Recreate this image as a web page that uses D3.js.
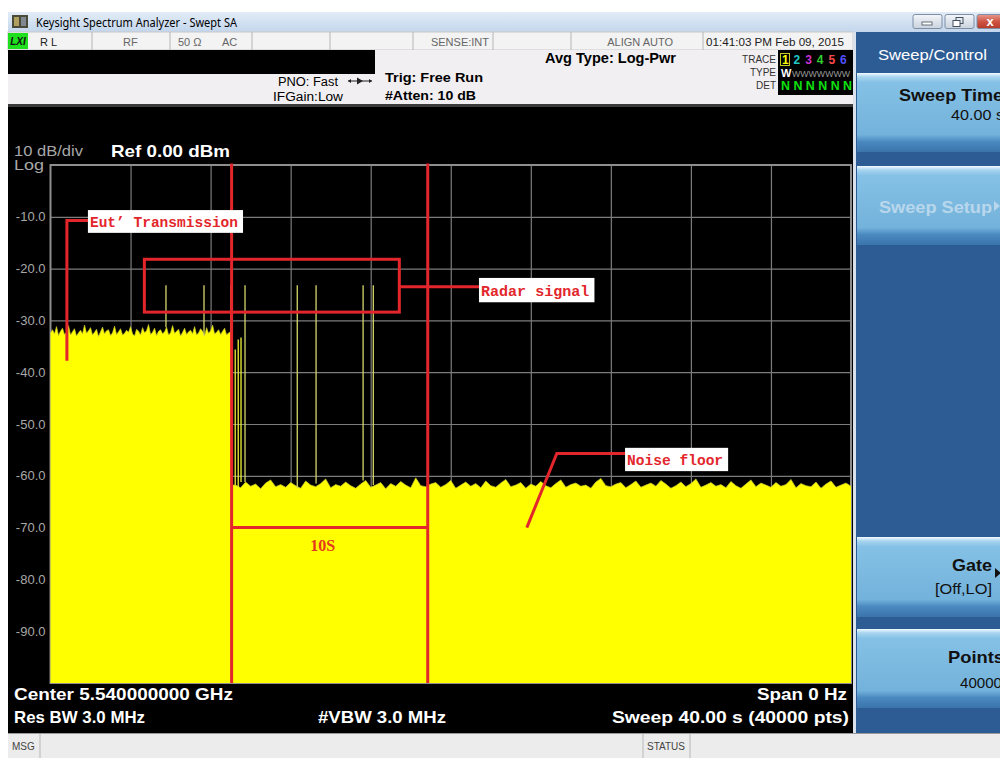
<!DOCTYPE html>
<html>
<head>
<meta charset="utf-8">
<script src="https://cdn.jsdelivr.net/npm/d3@7"></script>
<style>
  html, body { margin: 0; padding: 0; background: #fff; }
  svg { display: block; }
</style>
</head>
<body>
<svg id="screen" width="1000" height="758"></svg>
<script>
// ---- Sweep settings and readings (zero span, 40 s sweep) ----
const sweepSeconds = [0, 40];
const levelRange = [-100, 0];                 // dBm, Ref 0.00 dBm, 10 dB/div
const yTicks = [-10, -20, -30, -40, -50, -60, -70, -80, -90];
const timeGrid = [4, 8, 12, 16, 20, 24, 28, 32, 36];

// EUT transmission envelope, one reading every 0.1 s from 0 s
const eutStep = 0.1;
const eutLevel = [
  -32.4,-31.8,-32.6,-31.2,-32.9,-32.1,-31.5,-32.7,-32.3,-31.0,
  -32.8,-32.2,-31.6,-33.0,-32.4,-31.9,-32.6,-30.9,-32.5,-32.0,
  -31.4,-32.8,-32.3,-31.7,-33.1,-32.2,-31.3,-32.6,-32.0,-31.8,
  -32.9,-32.4,-31.1,-32.7,-32.2,-31.6,-32.8,-32.5,-31.9,-32.3,
  -31.2,-32.6,-33.0,-31.7,-32.1,-32.8,-31.4,-32.4,-32.0,-30.8,
  -32.7,-32.3,-31.5,-32.9,-32.1,-31.8,-32.6,-32.2,-31.3,-32.8,
  -32.4,-31.0,-32.5,-32.1,-31.7,-33.0,-32.3,-31.5,-32.7,-32.2,
  -31.9,-32.6,-31.2,-32.8,-32.4,-31.6,-32.1,-32.9,-31.4,-32.5,
  -32.0,-30.9,-32.6,-32.3,-31.8,-32.7,-32.1,-31.5,-32.8,-32.4,
  -32.2
];
const eutEnd = 9.05;

// Noise floor after the EUT stops, one reading every 0.25 s from 9.25 s
const floorStart = 9.25, floorStep = 0.25;
const floorLevel = [
  -61.8,-62.3,-61.2,-62.0,-61.6,-62.5,-61.4,-60.8,-62.1,-61.7,
  -62.2,-61.3,-61.9,-62.4,-61.0,-61.8,-62.1,-61.5,-60.6,-62.3,
  -61.7,-62.0,-61.2,-61.9,-62.4,-61.6,-60.9,-62.2,-61.8,-61.3,
  -62.5,-61.5,-62.0,-61.1,-61.8,-62.3,-60.4,-61.9,-62.1,-61.6,
  -61.3,-62.2,-61.7,-60.9,-62.4,-61.8,-61.2,-62.0,-61.5,-62.3,
  -61.0,-61.9,-62.2,-61.4,-60.7,-62.1,-61.8,-61.3,-62.4,-61.6,
  -62.0,-61.1,-61.9,-62.3,-61.5,-60.8,-62.2,-61.7,-61.4,-62.0,
  -61.8,-62.4,-61.2,-60.5,-61.9,-62.1,-61.6,-61.3,-62.3,-61.7,
  -61.0,-62.2,-61.8,-61.4,-62.0,-60.9,-61.6,-62.4,-61.9,-61.2,
  -62.1,-61.5,-60.6,-62.2,-61.8,-61.3,-62.0,-61.7,-62.3,-61.1,
  -61.9,-62.4,-61.6,-60.8,-62.1,-61.4,-61.8,-62.2,-61.3,-62.0,
  -61.7,-60.7,-62.3,-61.5,-61.9,-62.1,-61.2,-62.4,-61.6,-61.0,
  -62.2,-61.8,-61.4,-62.0
];

// Radar pulses
const radarTimes = [5.77, 7.67, 9.01, 9.72, 12.33, 13.27, 15.62, 16.13];
const radarPeak  = [-23.2, -23.2, -23.2, -23.2, -23.2, -23.2, -23.2, -23.2];
// EUT tail bursts just after it stops
const tailTimes = [9.23, 9.38, 9.52];
const tailPeak  = [-35.6, -33.7, -33.3];

// Annotation: channel move time markers
const markerTimes = [9.05, 18.85];
const markerLabel = "10S";

// ---- scales ----
const svg = d3.select("#screen");
const plot = { left: 50.5, right: 851, top: 165, bottom: 683 };
const x = d3.scaleLinear().domain(sweepSeconds).range([plot.left, plot.right]);
const y = d3.scaleLinear().domain(levelRange).range([plot.bottom, plot.top]);

const SANS = "'Liberation Sans', Arial, sans-serif";
const UI = "'Noto Sans', 'Open Sans', sans-serif";
const MONO = "'Liberation Mono', 'DejaVu Sans Mono', monospace";
const SERIF = "'Liberation Serif', 'DejaVu Serif', serif";

function text(g, px, py, s, o = {}) {
  const t = g.append("text").attr("x", px).attr("y", py).text(s)
    .attr("font-family", o.family || SANS)
    .attr("font-size", o.size || 12)
    .attr("font-weight", o.weight || "normal")
    .attr("fill", o.fill || "#000")
    .attr("text-anchor", o.anchor || "start");
  if (o.len) t.attr("textLength", o.len).attr("lengthAdjust", "spacingAndGlyphs");
  if (o.style) t.attr("font-style", o.style);
  return t;
}

const defs = svg.append("defs");
function vGrad(id, stops) {
  const g = defs.append("linearGradient").attr("id", id)
    .attr("x1", 0).attr("y1", 0).attr("x2", 0).attr("y2", 1);
  stops.forEach(([o, c]) => g.append("stop").attr("offset", o).attr("stop-color", c));
}
vGrad("titleBar", [[0, "#e2ecf7"], [1, "#c3d6ec"]]);
vGrad("softKey", [[0, "#f2faff"], [0.05, "#a8d5f0"], [0.12, "#85c1e6"], [0.78, "#73b2db"], [0.87, "#4a89c0"], [1, "#3a74ab"]]);
vGrad("winBtn", [[0, "#f4f6f9"], [1, "#c9d2de"]]);
vGrad("winClose", [[0, "#e89a8e"], [0.5, "#cf5544"], [1, "#b63a2a"]]);

// ---- window frame ----
svg.append("rect").attr("width", 1000).attr("height", 758).attr("fill", "#fff");
svg.append("rect").attr("x", 8).attr("y", 12).attr("width", 992).attr("height", 20).attr("fill", "url(#titleBar)");
const icon = svg.append("g");
icon.append("rect").attr("x", 12).attr("y", 15).attr("width", 16).attr("height", 13).attr("fill", "#4a4a38");
icon.append("rect").attr("x", 14).attr("y", 17).attr("width", 5).attr("height", 9).attr("fill", "#b0a060");
icon.append("rect").attr("x", 21).attr("y", 17).attr("width", 5).attr("height", 9).attr("fill", "#7f8890");
text(svg, 36, 27, "Keysight Spectrum Analyzer - Swept SA", { family: UI, size: 12, len: 201 });

[[913, "winBtn"], [945, "winBtn"], [977, "winClose"]].forEach(([bx, f]) => {
  svg.append("rect").attr("x", bx).attr("y", 14.5).attr("width", bx === 977 ? 26 : 29).attr("height", 14)
    .attr("rx", 2).attr("fill", `url(#${f})`).attr("stroke", "#7d8ea6");
});
svg.append("rect").attr("x", 922).attr("y", 22).attr("width", 10).attr("height", 3).attr("fill", "#fff").attr("stroke", "#44505e").attr("stroke-width", 0.8);
svg.append("rect").attr("x", 956).attr("y", 17.5).attr("width", 7).attr("height", 6).attr("fill", "none").attr("stroke", "#44505e");
svg.append("rect").attr("x", 953).attr("y", 20.5).attr("width", 7).attr("height", 6).attr("fill", "#fff").attr("stroke", "#44505e");
text(svg, 990, 26, "x", { family: SANS, size: 13, weight: "bold", fill: "#fff", anchor: "middle" });

// ---- status row ----
svg.append("rect").attr("x", 8).attr("y", 32).attr("width", 845).attr("height", 18).attr("fill", "#f3f3f3")
  .attr("stroke", "#c8c8c8");
svg.append("rect").attr("x", 8).attr("y", 33).attr("width", 20).attr("height", 16).attr("fill", "#1ee01e");
text(svg, 18, 45, "LXI", { size: 10, weight: "bold", style: "italic", anchor: "middle", fill: "#111" });
[92, 170, 252, 330, 413, 493, 571, 703].forEach(d => {
  svg.append("line").attr("x1", d).attr("x2", d).attr("y1", 32).attr("y2", 50).attr("stroke", "#b5b5b5");
});
text(svg, 40, 46, "R L", { size: 11, fill: "#222" });
text(svg, 123, 46, "RF", { size: 11, fill: "#666" });
text(svg, 178, 46, "50 Ω", { size: 11, fill: "#666" });
text(svg, 222, 46, "AC", { size: 11, fill: "#666" });
text(svg, 489, 46, "SENSE:INT", { size: 11, fill: "#666", anchor: "end" });
text(svg, 673, 46, "ALIGN AUTO", { size: 11, fill: "#666", anchor: "end" });
text(svg, 706, 46, "01:41:03 PM Feb 09, 2015", { size: 11, fill: "#222", len: 138 });

// ---- settings panel ----
svg.append("rect").attr("x", 8).attr("y", 50).attr("width", 845).attr("height", 56).attr("fill", "#f1eff1");
svg.append("rect").attr("x", 8).attr("y", 50).attr("width", 367).attr("height", 24).attr("fill", "#000");
svg.append("rect").attr("x", 8).attr("y", 104).attr("width", 845).attr("height", 3).attr("fill", "#3a3a3a");
text(svg, 278, 86, "PNO: Fast", { size: 12, len: 60 });
text(svg, 273, 101, "IFGain:Low", { size: 12, len: 70 });
svg.append("line").attr("x1", 348).attr("x2", 372).attr("y1", 81).attr("y2", 81).attr("stroke", "#222");
svg.append("path").attr("d", "M357,77.5 L363,81 L357,84.5 Z").attr("fill", "#222");
svg.append("path").attr("d", "M348,81 L351,79 L351,83 Z M372,81 L369,79 L369,83 Z").attr("fill", "#222");
text(svg, 385, 82, "Trig: Free Run", { size: 13, weight: "bold", len: 98 });
text(svg, 385, 100, "#Atten: 10 dB", { size: 13, weight: "bold", len: 91 });
text(svg, 545, 63, "Avg Type: Log-Pwr", { size: 14, weight: "bold", len: 131 });

text(svg, 776, 63, "TRACE", { size: 10, fill: "#333", anchor: "end" });
text(svg, 776, 76, "TYPE", { size: 10, fill: "#333", anchor: "end" });
text(svg, 776, 89, "DET", { size: 10, fill: "#333", anchor: "end" });
svg.append("rect").attr("x", 778).attr("y", 50).attr("width", 75).attr("height", 45).attr("fill", "#000");
const traceColors = ["#ffff00", "#20c8c8", "#d030d0", "#30d030", "#ff4a4a", "#5050ff"];
svg.append("rect").attr("x", 780.5).attr("y", 53.5).attr("width", 9).attr("height", 12).attr("fill", "none").attr("stroke", "#c8c820");
traceColors.forEach((c, i) => text(svg, 782 + i * 11.6, 64, String(i + 1), { size: 12, weight: "bold", fill: c }));
text(svg, 781, 77, "W", { size: 11, weight: "bold", fill: "#fff" });
text(svg, 792, 77, "WWWWWWW", { size: 9, fill: "#9a9a9a", len: 58 });
text(svg, 781, 90, "N N N N N N", { size: 12, weight: "bold", fill: "#10e010", len: 71 });

// ---- analyzer screen ----
svg.append("rect").attr("x", 8).attr("y", 107).attr("width", 845).attr("height", 626).attr("fill", "#000");
text(svg, 14, 156, "10 dB/div", { size: 14, fill: "#a8a8a8", len: 69 });
text(svg, 14, 170, "Log", { size: 14, fill: "#a8a8a8", len: 30 });
text(svg, 111, 157, "Ref 0.00 dBm", { size: 17, weight: "bold", fill: "#fff", len: 119 });

// graticule
const gridG = svg.append("g");
gridG.append("g").attr("transform", `translate(${plot.left},0)`)
  .call(d3.axisLeft(y).tickValues(yTicks).tickFormat(d => d.toFixed(1))
    .tickSize(-(plot.right - plot.left)).tickPadding(5))
  .call(g => {
    g.select(".domain").remove();
    g.selectAll(".tick line").attr("stroke", "#7c7c7c").attr("stroke-width", 1.2);
    g.selectAll(".tick text").attr("fill", "#a8a8a8").attr("font-family", SANS).attr("font-size", 13);
  });
gridG.append("g").attr("transform", `translate(0,${plot.bottom})`)
  .call(d3.axisBottom(x).tickValues(timeGrid).tickFormat("")
    .tickSize(-(plot.bottom - plot.top)))
  .call(g => {
    g.select(".domain").remove();
    g.selectAll(".tick line").attr("stroke", "#7c7c7c").attr("stroke-width", 1.2);
  });
svg.append("rect").attr("x", plot.left).attr("y", plot.top)
  .attr("width", plot.right - plot.left).attr("height", plot.bottom - plot.top)
  .attr("fill", "none").attr("stroke", "#8e8e8e").attr("stroke-width", 2);

// trace 1 (clear/write, peak-filled)
const trace = eutLevel.map((v, i) => ({ t: +(i * eutStep).toFixed(2), v }));
trace.push({ t: eutEnd, v: eutLevel[eutLevel.length - 1] });
trace.push({ t: eutEnd + 0.01, v: floorLevel[0] });
floorLevel.forEach((v, i) => trace.push({ t: floorStart + i * floorStep, v }));

const bisect = d3.bisector(d => d.t).left;
function levelAt(t) {
  const i = Math.min(trace.length - 1, Math.max(0, bisect(trace, t)));
  return trace[i].v;
}

const plotG = svg.append("g");
plotG.append("path").datum(trace)
  .attr("d", d3.area().x(d => x(d.t)).y0(y(levelRange[0])).y1(d => y(d.v)))
  .attr("fill", "#ffff00");
plotG.append("path").datum(trace)
  .attr("d", d3.line().x(d => x(d.t)).y(d => y(d.v)))
  .attr("fill", "none").attr("stroke", "#c4c430").attr("stroke-width", 0.7);

plotG.selectAll("line.radar").data(radarTimes.map((t, i) => ({ t, v: radarPeak[i] })))
  .join("line").attr("class", "radar")
  .attr("x1", d => x(d.t)).attr("x2", d => x(d.t))
  .attr("y1", d => y(levelAt(d.t))).attr("y2", d => y(d.v))
  .attr("stroke", "#d6d66c").attr("stroke-width", 1.3);
plotG.selectAll("line.tail").data(tailTimes.map((t, i) => ({ t, v: tailPeak[i] })))
  .join("line").attr("class", "tail")
  .attr("x1", d => x(d.t)).attr("x2", d => x(d.t))
  .attr("y1", d => y(levelAt(d.t))).attr("y2", d => y(d.v))
  .attr("stroke", "#f2f23a").attr("stroke-width", 1.3);

// ---- annotations ----
const RED = "#e3262c";
const note = svg.append("g").attr("stroke", RED).attr("stroke-width", 3).attr("fill", "none");
function seg(pts) {
  note.append("path").attr("d", d3.line().x(p => x(p[0])).y(p => y(p[1]))(pts));
}
function labelBox(t0, t1, v0, v1, s) {
  svg.append("rect").attr("x", x(t0)).attr("y", y(v0))
    .attr("width", x(t1) - x(t0)).attr("height", y(v1) - y(v0)).attr("fill", "#fff");
  text(svg, x(t0) + 2, y(v1) - 6, s, { family: MONO, size: 15, weight: "bold", fill: RED,
    len: x(t1) - x(t0) - 7 });
}

// move-time markers
markerTimes.forEach(t => seg([[t, 0.3], [t, -100]]));
seg([[markerTimes[0], -70], [markerTimes[1], -70]]);
text(svg, x(d3.mean(markerTimes)) - 7, y(-74.5), markerLabel,
  { family: SERIF, size: 16, weight: "bold", fill: "#e5391c", anchor: "middle", len: 25 });

// EUT transmission callout
seg([[0.82, -37.8], [0.82, -10.7], [1.87, -10.7]]);
labelBox(1.87, 9.62, -8.7, -13.1, "Eut’ Transmission");

// radar signal callout
note.append("rect").attr("x", x(4.69)).attr("y", y(-18.2))
  .attr("width", x(17.43) - x(4.69)).attr("height", y(-28.4) - y(-18.2));
seg([[17.43, -23.5], [21.41, -23.5]]);
labelBox(21.41, 27.18, -21.8, -26.5, "Radar signal");

// noise floor callout
seg([[23.80, -70.0], [25.30, -55.7], [28.71, -55.7]]);
labelBox(28.71, 33.86, -54.6, -59.1, "Noise floor");

// ---- bottom annotations ----
text(svg, 14, 700, "Center 5.540000000 GHz", { size: 17, weight: "bold", fill: "#fff", len: 219 });
text(svg, 14, 723, "Res BW 3.0 MHz", { size: 17, weight: "bold", fill: "#fff", len: 131 });
text(svg, 318, 723, "#VBW 3.0 MHz", { size: 17, weight: "bold", fill: "#fff", len: 128 });
text(svg, 757, 700, "Span 0 Hz", { size: 17, weight: "bold", fill: "#fff", len: 90 });
text(svg, 612, 723, "Sweep  40.00 s (40000 pts)", { size: 17, weight: "bold", fill: "#fff", len: 237 });

// ---- status bar ----
svg.append("rect").attr("x", 8).attr("y", 733).attr("width", 992).attr("height", 25).attr("fill", "#ececec");
svg.append("line").attr("x1", 8).attr("x2", 1000).attr("y1", 733.5).attr("y2", 733.5).attr("stroke", "#9a9a9a");
[40, 643, 690].forEach(d => svg.append("line").attr("x1", d).attr("x2", d).attr("y1", 734).attr("y2", 758).attr("stroke", "#b8b8b8"));
text(svg, 12, 750, "MSG", { size: 10, fill: "#444" });
text(svg, 647, 750, "STATUS", { size: 10, fill: "#444" });

// ---- soft-key panel ----
svg.append("rect").attr("x", 853).attr("y", 32).attr("width", 147).attr("height", 701).attr("fill", "#2d5c94");
svg.append("rect").attr("x", 853).attr("y", 32).attr("width", 3).attr("height", 701).attr("fill", "#d9e2ec");
text(svg, 878, 60, "Sweep/Control", { family: SANS, size: 15, fill: "#fff", len: 109 });

function softKey(y0, y1) {
  svg.append("rect").attr("x", 857).attr("y", y0).attr("width", 143).attr("height", y1 - y0)
    .attr("fill", "url(#softKey)");
}
softKey(73, 152);
text(svg, 899, 101, "Sweep Time", { size: 17, weight: "bold", fill: "#111", len: 104 });
text(svg, 951, 120, "40.00 s", { size: 14, fill: "#111", len: 53 });

softKey(166, 245);
text(svg, 879, 213, "Sweep Setup", { size: 17, weight: "bold", fill: "#b9d7ec", len: 113 });
svg.append("path").attr("d", "M994,201 L1000,206 L994,211 Z").attr("fill", "#b9d7ec");

softKey(537, 617);
text(svg, 952, 571, "Gate", { size: 17, weight: "bold", fill: "#111", len: 40 });
text(svg, 935, 594, "[Off,LO]", { size: 14, fill: "#111", len: 57 });
svg.append("path").attr("d", "M995,568 L1001,573 L995,578 Z").attr("fill", "#111");

softKey(629, 708);
text(svg, 948, 663, "Points", { size: 17, weight: "bold", fill: "#111", len: 56 });
text(svg, 960, 688, "40000", { size: 14, fill: "#111", len: 42 });
</script>
</body>
</html>
